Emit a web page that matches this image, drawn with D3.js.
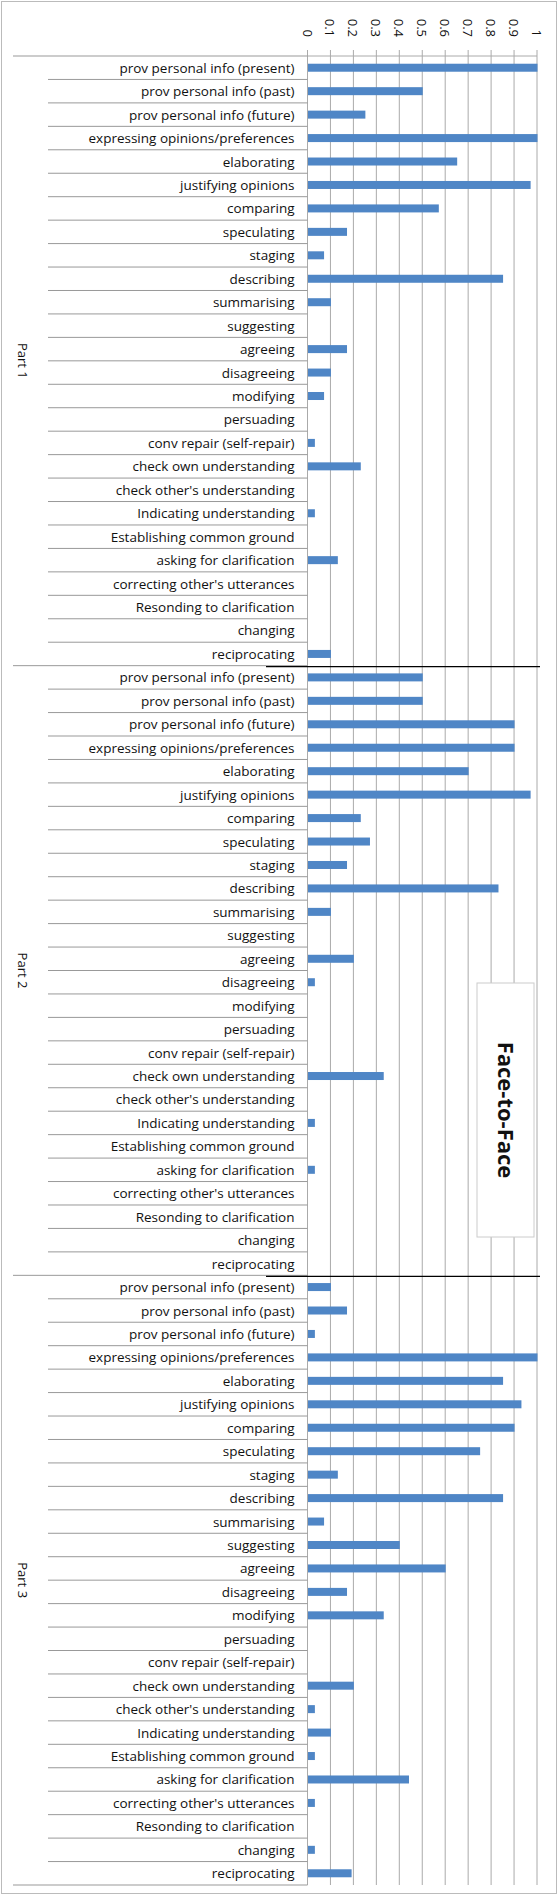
<!DOCTYPE html>
<html><head><meta charset="utf-8">
<script src="https://cdn.jsdelivr.net/npm/d3@7"></script>
<style>body{margin:0;background:#fff}text{font-family:"Open Sans","Noto Sans",sans-serif;fill:#111}</style>
</head><body>
<svg id="chart" width="559" height="1895"></svg>
<script>
const categories = ["prov personal info (present)","prov personal info (past)","prov personal info (future)",
  "expressing opinions/preferences","elaborating","justifying opinions","comparing","speculating","staging",
  "describing","summarising","suggesting","agreeing","disagreeing","modifying","persuading",
  "conv repair (self-repair)","check own understanding","check other's understanding","Indicating understanding",
  "Establishing common ground","asking for clarification","correcting other's utterances",
  "Resonding to clarification","changing","reciprocating"];
const parts = ["Part 1","Part 2","Part 3"];
const part1 = [1,0.5,0.25,1,0.65,0.97,0.57,0.17,0.07,0.85,0.1,0,0.17,0.1,0.07,0,0.03,0.23,0,0.03,0,0.13,0,0,0,0.1];
const part2 = [0.5,0.5,0.9,0.9,0.7,0.97,0.23,0.27,0.17,0.83,0.1,0,0.2,0.03,0,0,0,0.33,0,0.03,0,0.03,0,0,0,0];
const part3 = [0.1,0.17,0.03,1,0.85,0.93,0.9,0.75,0.13,0.85,0.07,0.4,0.6,0.17,0.33,0,0,0.2,0.03,0.1,0.03,0.44,0.03,0,0.03,0.19];
const ticks = d3.range(0, 11).map(i => i / 10);
const title = "Face-to-Face";

const rows = [];
[part1, part2, part3].forEach((vals, p) =>
  vals.forEach((v, i) => rows.push({key: p + "-" + i, part: p, label: categories[i], value: v})));

const svg = d3.select("#chart");
svg.append("rect").attr("x", 1.5).attr("y", 1.5).attr("width", 555).attr("height", 1892)
  .attr("fill", "none").attr("stroke", "#bbb");

const plotTop = 56, plotBottom = 1885, left = 307.5, right = 537;
const x = d3.scaleLinear().domain([0, 1]).range([left, right]);
const y = d3.scaleBand().domain(rows.map(d => d.key)).range([plotTop, plotBottom]);

// gridlines
svg.append("g").selectAll("line").data(ticks).join("line")
  .attr("x1", d => x(d)).attr("x2", d => x(d)).attr("y1", plotTop - 6).attr("y2", plotBottom)
  .attr("stroke", "#aaa");
svg.append("line").attr("x1", left).attr("x2", right).attr("y1", plotTop).attr("y2", plotTop).attr("stroke", "#aaa");

// tick labels (rotated)
svg.append("g").selectAll("text").data(ticks).join("text")
  .attr("transform", d => `translate(${x(d) - 5},37) rotate(90)`)
  .attr("text-anchor", "end").attr("font-size", 13).text(d => d);

// row separators
svg.append("g").selectAll("line").data(rows).join("line")
  .attr("x1", d => (d.label === categories[0] ? 13 : 48)).attr("x2", left)
  .attr("y1", d => y(d.key)).attr("y2", d => y(d.key)).attr("stroke", "#999");
svg.append("line").attr("x1", 13).attr("x2", left).attr("y1", plotBottom).attr("y2", plotBottom).attr("stroke", "#999");

// bars
const bh = 8;
svg.append("g").selectAll("rect").data(rows.filter(d => d.value > 0)).join("rect")
  .attr("x", x(0) + 0.5).attr("y", d => y(d.key) + y.bandwidth() / 2 - bh / 2)
  .attr("width", d => x(d.value) - x(0)).attr("height", bh).attr("fill", "#4f86c6");

// category labels
svg.append("g").selectAll("text").data(rows).join("text")
  .attr("x", left - 13).attr("y", d => y(d.key) + y.bandwidth() / 2 + 5)
  .attr("text-anchor", "end").attr("font-size", 13.5).text(d => d.label);

// part labels
const bw = y.bandwidth();
svg.append("g").selectAll("text").data(parts).join("text")
  .attr("transform", (d, i) => `translate(18,${y(i + "-0") + bw * 13}) rotate(90)`)
  .attr("text-anchor", "middle").attr("font-size", 13).text(d => d);

// black boundary lines
svg.append("g").selectAll("line").data([1, 2]).join("line")
  .attr("x1", 266).attr("x2", 540)
  .attr("y1", p => y(p + "-0") + 1).attr("y2", p => y(p + "-0") + 1)
  .attr("stroke", "#000").attr("stroke-width", 1.2);

// title box
svg.append("rect").attr("x", 477).attr("y", 983).attr("width", 57).attr("height", 254)
  .attr("fill", "#fff").attr("stroke", "#ccc");
svg.append("text").attr("transform", "translate(498,1110) rotate(90)")
  .attr("text-anchor", "middle").attr("font-size", 22).attr("font-weight", "bold").text(title);
</script>
</body></html>
